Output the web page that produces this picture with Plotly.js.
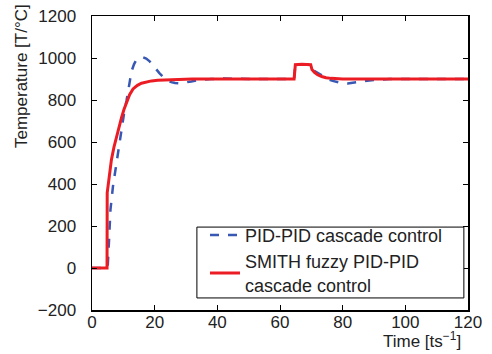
<!DOCTYPE html>
<html>
<head>
<meta charset="utf-8">
<script src="https://cdn.plot.ly/plotly-3.0.1.min.js"></script>
<style>html,body{margin:0;padding:0;background:#fff;}#chart{width:492px;height:354px;}</style>
</head>
<body>
<div id="chart"></div>
<script>
// Series 1: PID-PID cascade control (blue dashed)
var pidX = [0, 5, 5.4, 5.9, 6.7, 7.8, 8.6, 9.4, 10.4, 11, 11.8, 12.6, 13.4, 14.2, 15.2, 16.3, 17.3, 18.4, 19.5, 20.5, 21.5, 22.6, 24, 25.3, 26.5, 28, 30, 31.7, 33.5, 35, 38, 42, 46, 50, 55, 64.5, 64.9, 69.8, 70.4, 71.2, 72, 72.8, 73.6, 75.2, 76.8, 78.4, 80, 81.6, 83.2, 84.8, 86.3, 88.5, 90.6, 95, 120];
var pidY = [0, 0, 121, 279, 390, 500, 590, 674, 753, 795, 865, 936, 970, 992, 1000, 1003, 997, 984, 965, 944, 928, 912, 895, 885, 881, 880, 883, 888, 893, 896, 900, 902, 900, 900, 900, 900, 968, 968, 944, 936, 928, 920, 912, 900, 891, 884, 880, 879, 883, 886, 888, 893, 896, 900, 900];

// Series 2: SMITH fuzzy PID-PID cascade control (red solid)
var smithX = [0, 4.8, 4.85, 5.5, 6.2, 7, 7.8, 8.6, 9.4, 10.2, 11, 12, 13.1, 14.5, 15.8, 17.5, 19, 21, 24.5, 28, 32, 40, 50, 60, 64.5, 64.9, 67, 69.8, 70.2, 71, 72, 73.3, 74.7, 76.3, 78, 80, 85, 100, 120];
var smithY = [0, 0, 358, 440, 516, 575, 627, 672, 715, 755, 790, 825, 853, 870, 880, 886, 891, 894, 897, 899, 900, 900, 900, 900, 900, 968, 970, 968, 945, 932, 920, 912, 906, 903, 901, 900, 900, 900, 900];

var seriesNames = ["PID-PID cascade control", "SMITH fuzzy PID-PID<br>cascade control"];
var xTicks = [0, 20, 40, 60, 80, 100, 120];
var yTicks = [-200, 0, 200, 400, 600, 800, 1000, 1200];

var FONT = "Liberation Sans, Arial, Helvetica, sans-serif";

var traces = [
  {x: pidX, y: pidY, type: "scatter", mode: "lines", name: seriesNames[0],
   line: {color: "#3858b4", width: 2.5, dash: "dash"}},
  {x: smithX, y: smithY, type: "scatter", mode: "lines", name: seriesNames[1],
   line: {color: "#ec1c24", width: 3}}
];

var axisCommon = {
  showline: true, mirror: "ticks", linecolor: "#000", linewidth: 1.5,
  ticks: "inside", ticklen: 5, tickwidth: 1, tickcolor: "#000",
  showgrid: false, zeroline: false,
  tickfont: {family: FONT, size: 17, color: "#222"}
};

var layout = {
  width: 492, height: 354,
  margin: {l: 92, r: 24, t: 16, b: 44},
  paper_bgcolor: "#fff", plot_bgcolor: "#fff",
  font: {family: FONT, color: "#222"},
  xaxis: Object.assign({}, axisCommon, {range: [0, 120], tickvals: xTicks, ticklabelstandoff: -4}),
  yaxis: Object.assign({}, axisCommon, {range: [-200, 1200], tickvals: yTicks, ticklabelstandoff: 11}),
  showlegend: true,
  legend: {
    x: 0.3005, xanchor: "left", y: 0.317, yanchor: "top",
    bgcolor: "rgba(0,0,0,0)", borderwidth: 0,
    font: {family: FONT, size: 18, color: "#222"},
    tracegroupgap: 0
  },
  shapes: [
    {type: "rect", xref: "paper", yref: "paper", x0: 0.279, x1: 0.989, y0: 0.041, y1: 0.282,
     fillcolor: "#fff", line: {color: "#000", width: 1}, layer: "above"}
  ],
  annotations: [
    {text: "Temperature [T/°C]", xref: "paper", yref: "paper", x: -0.186, y: 0.796,
     xanchor: "center", yanchor: "middle", textangle: -90, showarrow: false,
     font: {family: FONT, size: 17, color: "#222"}},
    {text: "Time [ts<sup>−1</sup>]", xref: "paper", yref: "paper", x: 0.987, y: -0.102,
     xanchor: "right", yanchor: "middle", showarrow: false,
     font: {family: FONT, size: 17, color: "#222"}}
  ]
};

Plotly.newPlot("chart", traces, layout, {displayModeBar: false, staticPlot: true});
</script>
</body>
</html>
